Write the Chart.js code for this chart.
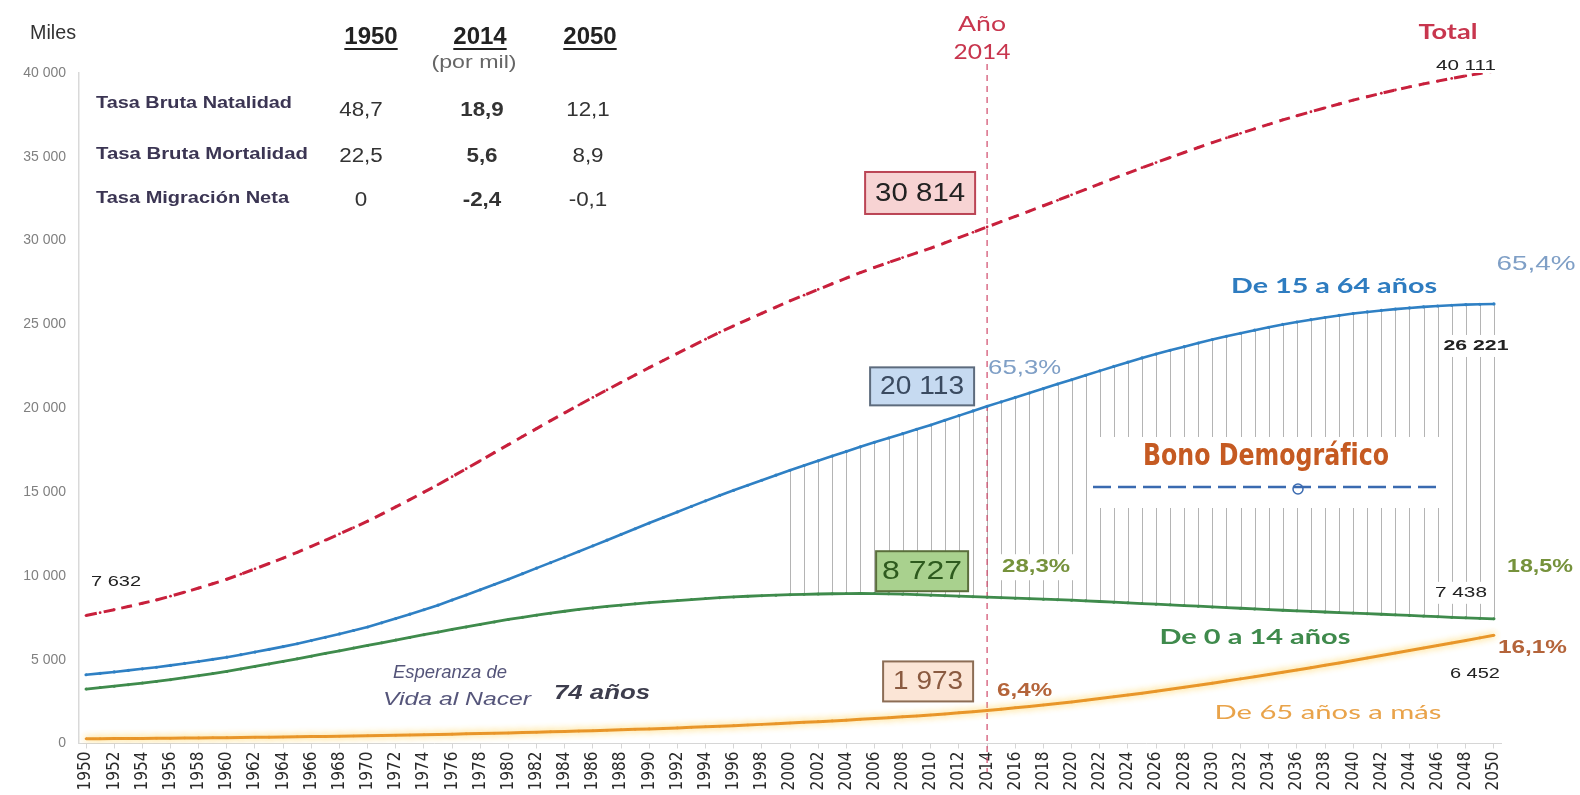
<!DOCTYPE html>
<html lang="es">
<head>
<meta charset="utf-8">
<title>Perú: población por grandes grupos de edad, 1950-2050</title>
<script src="https://cdn.jsdelivr.net/npm/chart.js@4.4.1/dist/chart.umd.min.js"></script>
<style>
  html, body { margin: 0; padding: 0; background: #fff; }
  #lienzo { display: block; }
</style>
</head>
<body>
<canvas id="lienzo" width="1580" height="795"></canvas>
<script>
// Años de la serie (1950-2050)
const anios = Array.from({ length: 101 }, (_, i) => 1950 + i);

// Población en miles por grupo de edad
const pob0a14 = [
  3250, 3335, 3420, 3510, 3605, 3700, 3810, 3925, 4045, 4170,
  4300, 4445, 4595, 4745, 4895, 5050, 5210, 5370, 5530, 5690,
  5850, 6010, 6170, 6330, 6490, 6650, 6805, 6955, 7105, 7255,
  7400, 7530, 7655, 7775, 7890, 8000, 8090, 8175, 8255, 8330,
  8400, 8465, 8525, 8585, 8645, 8700, 8745, 8785, 8820, 8850,
  8880, 8900, 8920, 8935, 8945, 8950, 8945, 8930, 8910, 8880,
  8850, 8820, 8790, 8760, 8727, 8700, 8670, 8640, 8610, 8580,
  8550, 8510, 8470, 8430, 8390, 8350, 8310, 8270, 8230, 8190,
  8150, 8110, 8070, 8030, 7990, 7950, 7915, 7880, 7845, 7810,
  7780, 7745, 7710, 7675, 7640, 7600, 7565, 7530, 7495, 7465,
  7438
];
const pob15a64 = [
  4100, 4185, 4270, 4360, 4455, 4550, 4660, 4775, 4895, 5020,
  5150, 5300, 5455, 5615, 5780, 5950, 6140, 6335, 6535, 6740,
  6950, 7200, 7455, 7715, 7980, 8250, 8555, 8860, 9170, 9485,
  9800, 10130, 10460, 10790, 11120, 11450, 11790, 12130, 12470, 12810,
  13150, 13485, 13815, 14145, 14475, 14800, 15105, 15405, 15705, 16005,
  16300, 16585, 16865, 17145, 17425, 17700, 17965, 18225, 18485, 18745,
  19000, 19280, 19560, 19840, 20113, 20380, 20645, 20910, 21175, 21440,
  21700, 21965, 22230, 22495, 22750, 23000, 23230, 23455, 23675, 23890,
  24100, 24290, 24475, 24655, 24830, 25000, 25145, 25285, 25415, 25535,
  25650, 25745, 25835, 25915, 25985, 26050, 26100, 26145, 26180, 26205,
  26221
];
const pob65mas = [
  282, 287, 292, 298, 304, 310, 317, 325, 333, 341,
  350, 359, 369, 379, 389, 400, 411, 423, 435, 447,
  460, 475, 490, 506, 523, 540, 557, 575, 593, 611,
  630, 651, 672, 694, 717, 740, 765, 790, 816, 843,
  870, 900, 931, 963, 996, 1030, 1066, 1103, 1141, 1180,
  1220, 1261, 1303, 1347, 1393, 1440, 1489, 1539, 1591, 1645,
  1700, 1762, 1828, 1898, 1973, 2050, 2130, 2212, 2296, 2385,
  2480, 2580, 2682, 2786, 2892, 3000, 3115, 3232, 3352, 3475,
  3600, 3727, 3855, 3985, 4117, 4250, 4386, 4524, 4664, 4806,
  4950, 5097, 5246, 5397, 5549, 5700, 5850, 6000, 6150, 6301,
  6452
];
const pobTotal = [
  7632, 7807, 7982, 8168, 8364, 8560, 8787, 9025, 9273, 9531,
  9800, 10104, 10419, 10739, 11064, 11400, 11761, 12128, 12500, 12877,
  13260, 13685, 14115, 14551, 14993, 15440, 15917, 16390, 16868, 17351,
  17830, 18311, 18787, 19259, 19727, 20190, 20645, 21095, 21541, 21983,
  22420, 22850, 23271, 23693, 24116, 24530, 24916, 25293, 25666, 26035,
  26400, 26746, 27088, 27427, 27763, 28090, 28399, 28694, 28986, 29270,
  29550, 29862, 30178, 30498, 30814, 31130, 31445, 31762, 32081, 32405,
  32730, 33055, 33382, 33711, 34032, 34350, 34655, 34957, 35257, 35555,
  35850, 36127, 36400, 36670, 36937, 37200, 37446, 37689, 37924, 38151,
  38380, 38587, 38791, 38987, 39174, 39350, 39515, 39675, 39825, 39971,
  40111
];

// Etiquetas de los ejes
const etiquetasEjeX = anios.filter(a => a % 2 === 0);
const ticksEjeY = [0, 5000, 10000, 15000, 20000, 25000, 30000, 35000, 40000];

// Cuadro de tasas (por mil)
const tablaAnios = ['1950', '2014', '2050'];
const tablaIndicadores = ['Tasa Bruta Natalidad', 'Tasa Bruta Mortalidad', 'Tasa Migración Neta'];
const tablaValores = [
  ['48,7', '18,9', '12,1'],
  ['22,5', '5,6', '8,9'],
  ['0', '-2,4', '-0,1']
];

const anioActual = 2014;
const inicioBono = 2000;
const esperanzaVida = '74 años';

const fmtMiles = v => String(Math.round(v)).replace(/\B(?=(\d{3})+(?!\d))/g, ' ');
const pct = (v, t) => (v / t * 100).toFixed(1).replace('.', ',') + '%';
const serie = valores => valores.map((v, i) => ({ x: anios[i], y: v }));

const SANS = '"Liberation Sans", Arial, sans-serif';
const GEO = 'Lato, "Noto Sans", sans-serif';
const NARROW = '"Liberation Sans Narrow", "DejaVu Sans Condensed", "Liberation Sans", sans-serif';

// Texto con ancho opcional forzado (escala horizontal)
function texto(ctx, s, x, y, o) {
  ctx.save();
  ctx.font = o.font;
  ctx.textBaseline = 'middle';
  ctx.textAlign = 'left';
  const w0 = ctx.measureText(s).width;
  const sx = o.w ? o.w / w0 : (o.sx || 1);
  const w = w0 * sx;
  const align = o.align || 'left';
  const left = align === 'center' ? x - w / 2 : align === 'right' ? x - w : x;
  if (o.fondo) {
    ctx.fillStyle = o.fondo;
    ctx.fillRect(left - 4, y - o.alto / 2, w + 8, o.alto);
  }
  ctx.fillStyle = o.color;
  ctx.translate(left, y);
  ctx.scale(sx, 1);
  ctx.fillText(s, 0, 0);
  ctx.restore();
  if (o.subrayado) {
    ctx.save();
    ctx.strokeStyle = o.color;
    ctx.lineWidth = 2;
    ctx.beginPath();
    ctx.moveTo(left, y + 12);
    ctx.lineTo(left + w, y + 12);
    ctx.stroke();
    ctx.restore();
  }
}

function recuadro(ctx, s, cx, cy, bw, bh, o) {
  ctx.save();
  ctx.fillStyle = o.relleno;
  ctx.fillRect(cx - bw / 2, cy - bh / 2, bw, bh);
  ctx.strokeStyle = o.borde;
  ctx.lineWidth = 2;
  ctx.strokeRect(cx - bw / 2, cy - bh / 2, bw, bh);
  ctx.restore();
  texto(ctx, s, cx, cy + 1, { font: o.font, color: o.color, align: 'center', w: o.w });
}

const anotaciones = {
  id: 'anotaciones',
  beforeDatasetsDraw(chart) {
    const { ctx, scales: { x, y } } = chart;
    ctx.save();
    // Bono demográfico: trazos verticales entre los grupos 0-14 y 15-64
    ctx.strokeStyle = '#b4b4b4';
    ctx.lineWidth = 1;
    anios.forEach((a, i) => {
      if (a < inicioBono) return;
      const px = Math.round(x.getPixelForValue(a)) + 0.5;
      ctx.beginPath();
      ctx.moveTo(px, y.getPixelForValue(pob0a14[i]));
      ctx.lineTo(px, y.getPixelForValue(pob15a64[i]));
      ctx.stroke();
    });
    // Panel del título del bono
    ctx.fillStyle = '#fff';
    ctx.fillRect(1088, 437, 360, 71);
    ctx.strokeStyle = '#3a6ab0';
    ctx.lineWidth = 2.5;
    ctx.setLineDash([18, 7]);
    ctx.beginPath();
    ctx.moveTo(1093, 487);
    ctx.lineTo(1436, 487);
    ctx.stroke();
    ctx.setLineDash([]);
    ctx.lineWidth = 1.5;
    ctx.beginPath();
    ctx.arc(1298, 489, 5, 0, Math.PI * 2);
    ctx.stroke();
    // Año de referencia
    const x14 = x.getPixelForValue(anioActual);
    ctx.strokeStyle = 'rgba(208,72,104,0.85)';
    ctx.lineWidth = 1.4;
    ctx.setLineDash([6, 5]);
    ctx.beginPath();
    ctx.moveTo(x14, 64);
    ctx.lineTo(x14, 772);
    ctx.stroke();
    ctx.restore();
  },
  beforeDatasetDraw(chart, args) {
    const ds = chart.data.datasets[args.index];
    if (ds.resplandor) {
      chart.ctx.save();
      chart.ctx.shadowColor = ds.resplandor;
      chart.ctx.shadowBlur = 7;
    }
  },
  afterDatasetDraw(chart, args) {
    if (chart.data.datasets[args.index].resplandor) chart.ctx.restore();
  },
  afterDatasetsDraw(chart) {
    const { ctx, scales: { x, y } } = chart;
    const i14 = anios.indexOf(anioActual);
    const iFin = anios.length - 1;
    const x14 = x.getPixelForValue(anioActual);
    const xFin = x.getPixelForValue(anios[iFin]);
    const Y = v => y.getPixelForValue(v);

    // Cuadro de tasas
    texto(ctx, 'Miles', 30, 33, { font: '20px ' + SANS, color: '#333', w: 46 });
    const colX = [371, 480, 590];
    tablaAnios.forEach((t, j) => {
      texto(ctx, t, colX[j], 37, { font: 'bold 24px ' + SANS, color: '#222', align: 'center', subrayado: true });
    });
    texto(ctx, '(por mil)', 474, 63, { font: '18px ' + SANS, color: '#666', align: 'center', w: 85 });
    const filaY = [104, 155, 199];
    const anchoInd = [196, 212, 193];
    tablaIndicadores.forEach((t, r) => {
      texto(ctx, t, 96, filaY[r], { font: 'bold 16px ' + SANS, color: '#3b3553', w: anchoInd[r] });
      tablaValores[r].forEach((v, j) => {
        texto(ctx, v, colX[j] - 10 + (j === 0 ? 0 : j === 1 ? 12 : 8), filaY[r] + (r === 0 ? 6 : 1), {
          font: (j === 1 ? 'bold ' : '') + '20px ' + SANS, color: '#333', align: 'center', sx: 1.12
        });
      });
    });

    // Año de referencia y total
    texto(ctx, 'Año', x14 - 5, 24, { font: '21px ' + GEO, color: '#c8364e', align: 'center', w: 48 });
    texto(ctx, String(anioActual), x14 - 5, 52, { font: '21px ' + GEO, color: '#c8364e', align: 'center', w: 57 });
    texto(ctx, 'Total', xFin - 46, 32, { font: 'bold 21px ' + GEO, color: '#c8364e', align: 'center', w: 59 });
    texto(ctx, fmtMiles(pobTotal[iFin]), xFin - 28, Y(pobTotal[iFin]) - 5, { font: '15px ' + SANS, color: '#222', align: 'center', w: 60 });
    texto(ctx, fmtMiles(pobTotal[0]), x.getPixelForValue(anios[0]) + 30, Y(pobTotal[0]) - 34, { font: '15px ' + SANS, color: '#222', align: 'center', w: 50 });

    // Valores de 2014
    recuadro(ctx, fmtMiles(pobTotal[i14]), x14 - 67, Y(pobTotal[i14]) - 34, 110, 42,
      { relleno: '#f7d3d3', borde: '#bb4555', color: '#222', font: '25px ' + SANS, w: 90 });
    recuadro(ctx, fmtMiles(pob15a64[i14]), x14 - 65, Y(pob15a64[i14]) - 20, 104, 38,
      { relleno: '#c6daf1', borde: '#5d6b7d', color: '#3a4a60', font: '25px ' + SANS, w: 84 });
    recuadro(ctx, fmtMiles(pob0a14[i14]), x14 - 65, Y(pob0a14[i14]) - 26, 92, 40,
      { relleno: '#a9d18e', borde: '#5a6e3c', color: '#2e5a1e', font: '26px ' + SANS, w: 80 });
    recuadro(ctx, fmtMiles(pob65mas[i14]), x14 - 59, Y(pob65mas[i14]) - 29, 90, 40,
      { relleno: '#fbe5d6', borde: '#8c6d55', color: '#8a5a40', font: '25px ' + SANS, w: 70 });

    texto(ctx, pct(pob15a64[i14], pobTotal[i14]), x14 + 1, Y(pob15a64[i14]) - 38, { font: '21px ' + SANS, color: '#7f9fc6', w: 73 });
    texto(ctx, pct(pob0a14[i14], pobTotal[i14]), x14 + 15, Y(pob0a14[i14]) - 30, { font: 'bold 19px ' + SANS, color: '#76923c', w: 68, fondo: '#fff', alto: 26 });
    texto(ctx, pct(pob65mas[i14], pobTotal[i14]), x14 + 10, Y(pob65mas[i14]) - 19, { font: 'bold 18px ' + SANS, color: '#b4643a', w: 55 });

    // Valores de 2050
    texto(ctx, pct(pob15a64[iFin], pobTotal[iFin]), xFin + 42, Y(pob15a64[iFin]) - 40, { font: '21px ' + SANS, color: '#7f9fc6', align: 'center', w: 79 });
    texto(ctx, fmtMiles(pob15a64[iFin]), xFin - 18, Y(pob15a64[iFin]) + 42, { font: 'bold 15px ' + SANS, color: '#222', align: 'center', w: 65, fondo: '#fff', alto: 22 });
    texto(ctx, pct(pob0a14[iFin], pobTotal[iFin]), xFin + 13, Y(pob0a14[iFin]) - 52, { font: 'bold 19px ' + SANS, color: '#76923c', w: 66 });
    texto(ctx, fmtMiles(pob0a14[iFin]), xFin - 33, Y(pob0a14[iFin]) - 26, { font: '15px ' + SANS, color: '#222', align: 'center', w: 52, fondo: '#fff', alto: 22 });
    texto(ctx, pct(pob65mas[iFin], pobTotal[iFin]), xFin + 4, Y(pob65mas[iFin]) + 12, { font: 'bold 19px ' + SANS, color: '#b4643a', w: 69 });
    texto(ctx, fmtMiles(pob65mas[iFin]), xFin - 19, Y(pob65mas[iFin]) + 39, { font: '15px ' + SANS, color: '#222', align: 'center', w: 50 });

    // Nombres de los grupos
    texto(ctx, 'De 15 a 64 años', 1334, 287, { font: 'bold 20px ' + GEO, color: '#2e7cc0', align: 'center', w: 206 });
    texto(ctx, 'De 0 a 14 años', 1255, 638, { font: 'bold 20px ' + GEO, color: '#3f8a4c', align: 'center', w: 191 });
    texto(ctx, 'De 65 años a más', 1328, 713, { font: '20px ' + GEO, color: '#e9a34a', align: 'center', w: 227 });
    texto(ctx, 'Bono Demográfico', 1266, 457, { font: 'bold 30px ' + NARROW, color: '#c55a22', align: 'center', w: 246 });

    // Esperanza de vida
    texto(ctx, 'Esperanza de', 393, 673, { font: 'italic 18px ' + SANS, color: '#55557a', w: 114 });
    texto(ctx, 'Vida al Nacer', 383, 700, { font: 'italic 18px ' + SANS, color: '#55557a', w: 148 });
    texto(ctx, esperanzaVida, 554, 693, { font: 'bold italic 21px ' + SANS, color: '#3d3d4d', w: 96 });
  }
};

new Chart(document.getElementById('lienzo'), {
  type: 'line',
  data: {
    datasets: [
      {
        label: 'Total', data: serie(pobTotal),
        borderColor: '#c8203c', backgroundColor: '#c8203c',
        borderWidth: 3, borderDash: [11, 7], pointRadius: 1.4, pointBorderWidth: 0
      },
      {
        label: 'De 15 a 64 años', data: serie(pob15a64),
        borderColor: '#2f80c4', backgroundColor: '#2f80c4',
        borderWidth: 2.6, pointRadius: 1.6, pointBorderWidth: 0
      },
      {
        label: 'De 0 a 14 años', data: serie(pob0a14),
        borderColor: '#3f8b4c', backgroundColor: '#3f8b4c',
        borderWidth: 2.8, pointRadius: 1.5, pointBorderWidth: 0
      },
      {
        label: 'De 65 años a más', data: serie(pob65mas),
        borderColor: '#e8952a', backgroundColor: '#e8952a',
        borderWidth: 3, pointRadius: 1.3, pointBorderWidth: 0,
        resplandor: 'rgba(255,205,70,0.9)'
      }
    ]
  },
  options: {
    responsive: false,
    animation: false,
    events: [],
    layout: { padding: { top: 73, right: 79, left: 0, bottom: 0 } },
    plugins: { legend: { display: false }, tooltip: { enabled: false } },
    scales: {
      x: {
        type: 'linear', min: 1949.5, max: 2050.5,
        afterFit(s) { s.height = 51.5; },
        afterBuildTicks(s) { s.ticks = etiquetasEjeX.map(v => ({ value: v })); },
        ticks: {
          autoSkip: false, maxRotation: 90, minRotation: 90, padding: 3,
          color: '#2a2a2a', font: { family: NARROW, size: 17 },
          callback: v => String(v)
        },
        grid: { display: true, drawOnChartArea: false, drawTicks: true, tickLength: 5, color: '#d6d6d6' },
        border: { display: true, color: '#d6d6d6' }
      },
      y: {
        min: 0, max: 40000,
        afterFit(s) { s.width = 79; },
        afterBuildTicks(s) { s.ticks = ticksEjeY.map(v => ({ value: v })); },
        ticks: { padding: 13, color: '#808080', font: { family: SANS, size: 14 }, callback: v => fmtMiles(v) },
        grid: { display: false, drawTicks: false },
        border: { display: true, color: '#d9d9d9', width: 1.5 }
      }
    }
  },
  plugins: [anotaciones]
});
</script>
</body>
</html>
